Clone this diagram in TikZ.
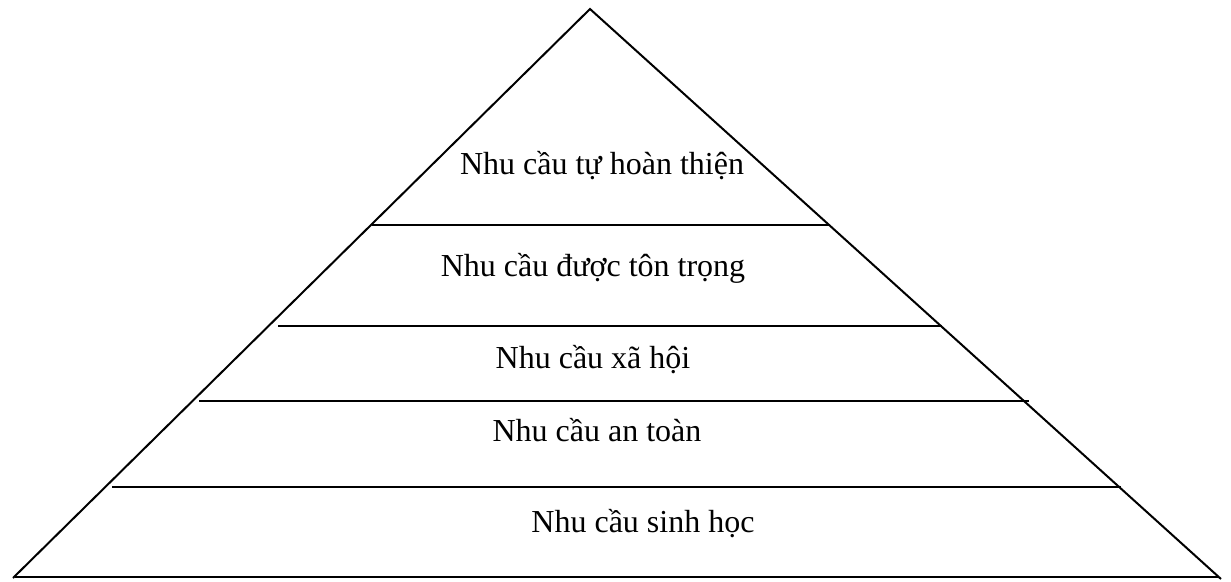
\documentclass[tikz,border=0pt]{standalone}
\usepackage{fontspec}
\setmainfont{Liberation Serif}
\usetikzlibrary{positioning}

\begin{document}
\begin{tikzpicture}[x=0.5pt, y=-0.5pt, edge/.style={line width=1pt, black}, level/.style={font=\fontsize{16}{19}\selectfont, anchor=base, inner sep=0pt}]
\useasboundingbox (0,0) rectangle (1231,582);
% outline of the pyramid
\coordinate (apex) at (590,9); \coordinate (bl) at (13,578); \coordinate (br) at (1221,579);
\draw[edge] (bl) -- (apex) -- (br); \draw[edge] (15,577) -- (1219,577);
% dividing lines
\draw[edge] (372,225) -- (830,225); \draw[edge] (278,326) -- (942,326); \draw[edge] (199,401) -- (1029,401); \draw[edge] (112,487) -- (1121,487);
% labels
\node[level] (self) at (602,175) {Nhu cầu tự hoàn thiện}; \node[level] (esteem) at (593,277) {Nhu cầu được tôn trọng}; \node[level] (social) at (593,369) {Nhu cầu xã hội}; \node[level] (safety) at (597,442) {Nhu cầu an toàn}; \node[level] (bio) at (643,532) {Nhu cầu sinh học};
\end{tikzpicture}
\end{document}
